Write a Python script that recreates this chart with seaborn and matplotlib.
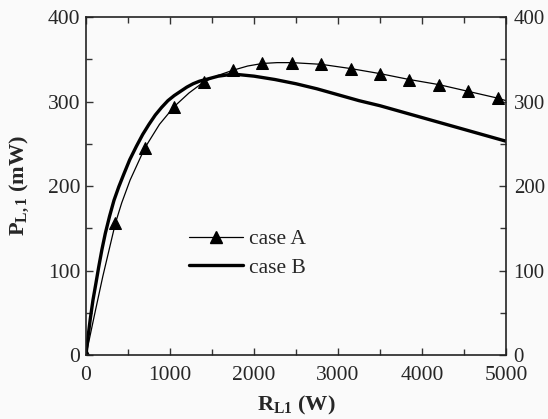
import matplotlib
matplotlib.use("Agg")
import matplotlib.pyplot as plt
import seaborn as sns
import numpy as np
from matplotlib.lines import Line2D
from matplotlib.ticker import MultipleLocator

# ---- data ----
caseA_x = [0, 100, 200, 300, 350, 425, 525, 700, 875, 1050, 1225, 1400, 1575, 1750,
           1925, 2100, 2275, 2450, 2800, 3150, 3500, 3850, 4200, 4550, 4900, 5000]
caseA_y = [0, 47, 93, 135, 156, 180, 207, 245, 273, 294, 310, 323, 331, 337,
           342, 345, 346, 346, 344, 339, 333, 326, 320, 312, 304, 301]
caseA_marker_x = [0, 350, 700, 1050, 1400, 1750, 2100, 2450, 2800, 3150,
                  3500, 3850, 4200, 4550, 4900]

caseB_x = [0, 15, 50, 83, 120, 151, 190, 230, 280, 333, 390, 450, 520, 600, 675, 750,
           825, 900, 975, 1050, 1125, 1200, 1275, 1350, 1425, 1500, 1575, 1650, 1725,
           1800, 1900, 2000, 2250, 2500, 2750, 3000, 3250, 3500, 3750, 4000, 4250,
           4500, 4750, 5000]
caseB_y = [0, 14, 42, 65, 86, 104, 125, 144, 164, 183, 199, 214, 231, 247, 261, 273,
           284, 293, 301, 307, 312, 317, 321, 324, 326, 328, 330, 331, 332,
           332, 331, 330, 326, 321, 315, 308, 301, 295, 288, 281, 274,
           267, 260, 253]

labels = ["case A", "case B"]
x_ticks = [0, 1000, 2000, 3000, 4000, 5000]
y_ticks = [0, 100, 200, 300, 400]

# ---- style ----
sns.set_theme(style="ticks")
plt.rcParams["font.family"] = ["Liberation Serif", "DejaVu Serif"]
plt.rcParams["mathtext.fontset"] = "custom"
plt.rcParams["mathtext.rm"] = "Liberation Serif"
plt.rcParams["mathtext.bf"] = "Liberation Serif:bold"
plt.rcParams["mathtext.it"] = "Liberation Serif:italic"

bg = "#fafafa"
fig = plt.figure(figsize=(5.48, 4.19), dpi=100, facecolor=bg)
ax = fig.add_axes([86 / 548, 1 - 355 / 419, 420 / 548, 338 / 419])
ax.set_facecolor(bg)

mark_idx = [caseA_x.index(m) for m in caseA_marker_x]
sns.lineplot(x=caseA_x, y=caseA_y, ax=ax, color="black", lw=0.9,
             marker="^", markevery=mark_idx, markersize=9,
             markeredgecolor="black", markerfacecolor="black",
             sort=False, estimator=None)
sns.lineplot(x=caseB_x, y=caseB_y, ax=ax, color="black", lw=2.4,
             sort=False, estimator=None)

ax.set_xlim(0, 5000)
ax.set_ylim(0, 400)
ax.set_xticks(x_ticks)
ax.set_yticks(y_ticks)
ax.xaxis.set_minor_locator(MultipleLocator(500))
ax.yaxis.set_minor_locator(MultipleLocator(50))
ax.tick_params(which="both", direction="in", top=True, right=True,
               labelright=False, labelsize=15.5, color="#333333", width=1.0)
ax.tick_params(which="major", length=5)
ax.tick_params(which="minor", length=4)
ax.tick_params(axis="y", which="major", pad=4)
ax.tick_params(axis="x", which="major", pad=8)
for s in ax.spines.values():
    s.set_linewidth(1.2)
    s.set_color("#222222")

# right-hand tick labels
sec = ax.secondary_yaxis("right")
sec.set_yticks(y_ticks)
sec.tick_params(which="both", direction="in", length=0, pad=5.5, labelsize=15)
sec.spines["right"].set_visible(False)

ax.set_xlabel(r"$\mathbf{R_{L1}}$ (W)", fontsize=16, fontweight="bold")
ax.set_ylabel(r"$\mathbf{P_{L,1}}$ (mW)", fontsize=16, fontweight="bold")
ax.xaxis.set_label_coords(0.5, -0.115)
ax.yaxis.set_label_coords(-0.13, 0.5)

if ax.get_legend() is not None:
    ax.get_legend().remove()
handles = [
    Line2D([], [], color="black", lw=0.9, marker="^", markersize=9),
    Line2D([], [], color="black", lw=2.4),
]
fig.legend(handles, labels, loc="upper left",
           bbox_to_anchor=(189 / 548, 1 - 229 / 419), bbox_transform=fig.transFigure,
           frameon=False, fontsize=15.5, handlelength=2.5, handletextpad=0.3,
           labelspacing=0.4, borderpad=0, borderaxespad=0)

fig.savefig("out.png", dpi=100, facecolor=bg)
